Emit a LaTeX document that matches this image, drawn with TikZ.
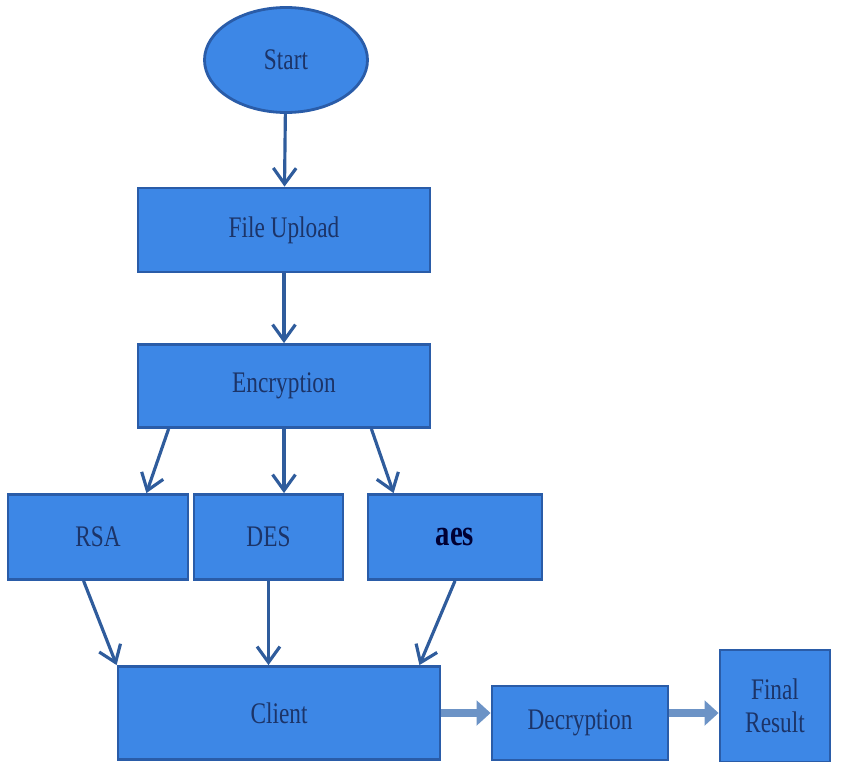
\documentclass[tikz,border=0pt]{standalone}
\usepackage{fontspec}
\setmainfont{Liberation Serif}[FakeStretch=0.78]
\usetikzlibrary{arrows.meta, shapes.geometric, calc}

\definecolor{boxblue}{HTML}{3D87E6}
\definecolor{edgeblue}{HTML}{2A5CA8}
\definecolor{textnavy}{HTML}{1C3468}
\definecolor{arrowblue}{HTML}{2F5C9C}
\definecolor{flowblue}{HTML}{6C93C6}

\begin{document}
\begin{tikzpicture}[
  box/.style={rectangle,draw=edgeblue,line width=1.6pt,fill=boxblue,text=textnavy,
    font=\fontsize{17}{19}\selectfont,align=center,inner sep=0pt},
  link/.style={draw=arrowblue,line width=1.8pt,-{Straight Barb[length=9pt,width=13pt,line width=1.8pt]}},
  flow/.style={draw=flowblue,line width=4pt,-{Triangle[length=8pt,width=14pt]}}
]
\useasboundingbox (0,0) rectangle (17.08,-15.24);
% Etapes du chiffrement
\node[box,ellipse,minimum width=3.26cm,minimum height=2.1cm] (start) at (5.72,-1.2) {Start};
\node[box,minimum width=5.84cm,minimum height=1.68cm] (upload) at (5.68,-4.6) {File Upload};
\node[box,minimum width=5.84cm,minimum height=1.66cm] (enc) at (5.68,-7.72) {Encryption};
\node[box,minimum width=3.6cm,minimum height=1.7cm] (rsa) at (1.96,-10.74) {RSA};
\node[box,minimum width=2.98cm,minimum height=1.7cm] (des) at (5.37,-10.74) {DES};
\node[box,minimum width=3.48cm,minimum height=1.7cm,text=black!80!blue,
  font=\fontsize{21}{23}\selectfont\bfseries] (aes) at (9.1,-10.74) {aes};
\node[box,minimum width=6.44cm,minimum height=1.86cm] (client) at (5.58,-14.26) {Client};
\node[box,minimum width=3.52cm,minimum height=1.48cm] (dec) at (11.6,-14.46) {Decryption};
\node[box,minimum width=2.2cm,minimum height=2.24cm] (final) at (15.5,-14.12) {Final\\Result};

\draw[link] (start) -- (upload);
\draw[link] (upload) -- (enc);
\draw[link] ([xshift=0.64cm]enc.south west) -- ([xshift=-0.86cm]rsa.north east);
\draw[link] (enc.south) -- (enc.south |- des.north);
\draw[link] ([xshift=-1.2cm]enc.south east) -- ([xshift=0.54cm]aes.north west);
\draw[link] ([xshift=1.54cm]rsa.south west) -- (client.north west);
\draw[link] (des.south) -- (des.south |- client.north);
\draw[link] (aes.south) -- ([xshift=-0.44cm]client.north east);
\draw[flow] (client.east) -- (client.east -| dec.west);
\draw[flow] (dec.east |- client.east) -- (final.west |- client.east);
\end{tikzpicture}
\end{document}
